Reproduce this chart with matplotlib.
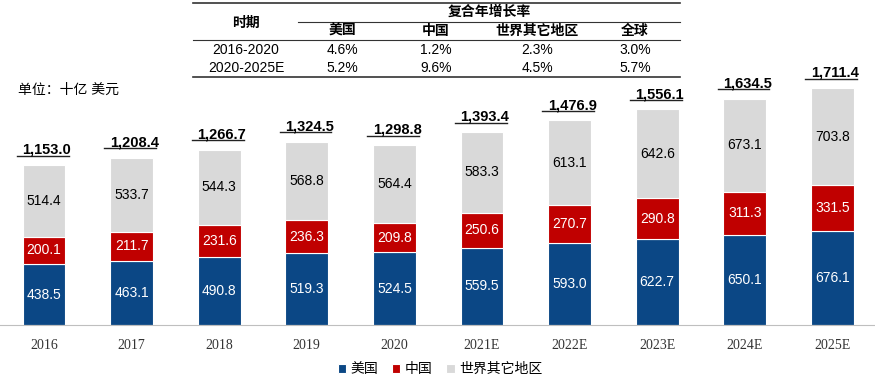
import numpy as np
import matplotlib.pyplot as plt
from matplotlib.lines import Line2D

plt.rcParams['font.family'] = ['Liberation Sans', 'Noto Sans CJK SC']

years = ['2016', '2017', '2018', '2019', '2020', '2021E', '2022E', '2023E', '2024E', '2025E']
us = [438.5, 463.1, 490.8, 519.3, 524.5, 559.5, 593.0, 622.7, 650.1, 676.1]
cn = [200.1, 211.7, 231.6, 236.3, 209.8, 250.6, 270.7, 290.8, 311.3, 331.5]
rest = [514.4, 533.7, 544.3, 568.8, 564.4, 583.3, 613.1, 642.6, 673.1, 703.8]
totals = [1153.0, 1208.4, 1266.7, 1324.5, 1298.8, 1393.4, 1476.9, 1556.1, 1634.5, 1711.4]

series_names = ['美国', '中国', '世界其它地区']
periods = ['2016-2020', '2020-2025E']
cagr_cols = ['美国', '中国', '世界其它地区', '全球']
cagr = [['4.6%', '1.2%', '2.3%', '3.0%'],
        ['5.2%', '9.6%', '4.5%', '5.7%']]

blue = '#0B4785'
red = '#C00000'
grey = '#D9D9D9'

W, H = 875, 389
fig = plt.figure(figsize=(W / 100, H / 100), dpi=100)
ax = fig.add_axes([0, 64 / H, 1, 1 - 64 / H])

x = np.arange(len(years))
us_a, cn_a, rest_a = np.array(us), np.array(cn), np.array(rest)
bw = 0.49
ax.bar(x, us_a, bw, color=blue, edgecolor='white', linewidth=0.8, label=series_names[0])
ax.bar(x, cn_a, bw, bottom=us_a, color=red, edgecolor='white', linewidth=0.8, label=series_names[1])
ax.bar(x, rest_a, bw, bottom=us_a + cn_a, color=grey, edgecolor='white', linewidth=0.8, label=series_names[2])

for i in range(len(years)):
    ax.text(x[i], us_a[i] / 2, f'{us[i]:.1f}', ha='center', va='center', color='white', fontsize=10)
    ax.text(x[i], us_a[i] + cn_a[i] / 2, f'{cn[i]:.1f}', ha='center', va='center', color='white', fontsize=10)
    ax.text(x[i], us_a[i] + cn_a[i] + rest_a[i] / 2, f'{rest[i]:.1f}', ha='center', va='center', color='black', fontsize=10)
    ax.text(x[i] + 0.03, totals[i] + 82, f'{totals[i]:,.1f}', ha='center', va='baseline', fontsize=10.5, fontweight='bold')
    ax.plot([x[i] - 0.31, x[i] + 0.28], [totals[i] + 68, totals[i] + 68], color='#222222', lw=1.0)

ax.set_xlim(-44 / 87.6, (W - 44) / 87.6)
ax.set_ylim(0, 325 / 0.1385)
for s in ['top', 'right', 'left']:
    ax.spines[s].set_visible(False)
ax.spines['bottom'].set_color('#BFBFBF')
ax.set_yticks([])
ax.set_xticks(x)
ax.set_xticklabels(years, fontfamily='Liberation Serif', fontsize=10, color='#333333')
ax.tick_params(axis='x', length=0, pad=10)

fig.legend(loc='center', bbox_to_anchor=(440 / W, 1 - 369 / H), ncol=3, frameon=False,
           handlelength=0.6, handleheight=0.6, handletextpad=0.3, columnspacing=1.0, fontsize=10)

fig.text(18 / W, 1 - 90 / H, '单位：十亿 美元', fontsize=10, va='center')


# table on top
def fx(px):
    return px / W


def fy(py):
    return 1 - py / H


fig.add_artist(Line2D([fx(193), fx(680)], [fy(3), fy(3)], color='#333333', lw=1.2))
fig.add_artist(Line2D([fx(298), fx(680)], [fy(22), fy(22)], color='#333333', lw=0.8))
fig.add_artist(Line2D([fx(193), fx(680)], [fy(40), fy(40)], color='#333333', lw=0.8))
fig.add_artist(Line2D([fx(193), fx(680)], [fy(77), fy(77)], color='#333333', lw=1.2))

fig.text(fx(246), fy(23), '时期', ha='center', va='center', fontsize=10, fontweight='bold')
fig.text(fx(489), fy(12), '复合年增长率', ha='center', va='center', fontsize=10, fontweight='bold')
col_x = [342, 436, 537, 635]
for cx, name in zip(col_x, cagr_cols):
    fig.text(fx(cx), fy(31), name, ha='center', va='center', fontsize=10, fontweight='bold')
row_y = [50, 68]
for ry, p, vals in zip(row_y, periods, cagr):
    fig.text(fx(246), fy(ry), p, ha='center', va='center', fontsize=10)
    for cx, v in zip(col_x, vals):
        fig.text(fx(cx), fy(ry), v, ha='center', va='center', fontsize=10)

fig.savefig('out.png', dpi=100)
